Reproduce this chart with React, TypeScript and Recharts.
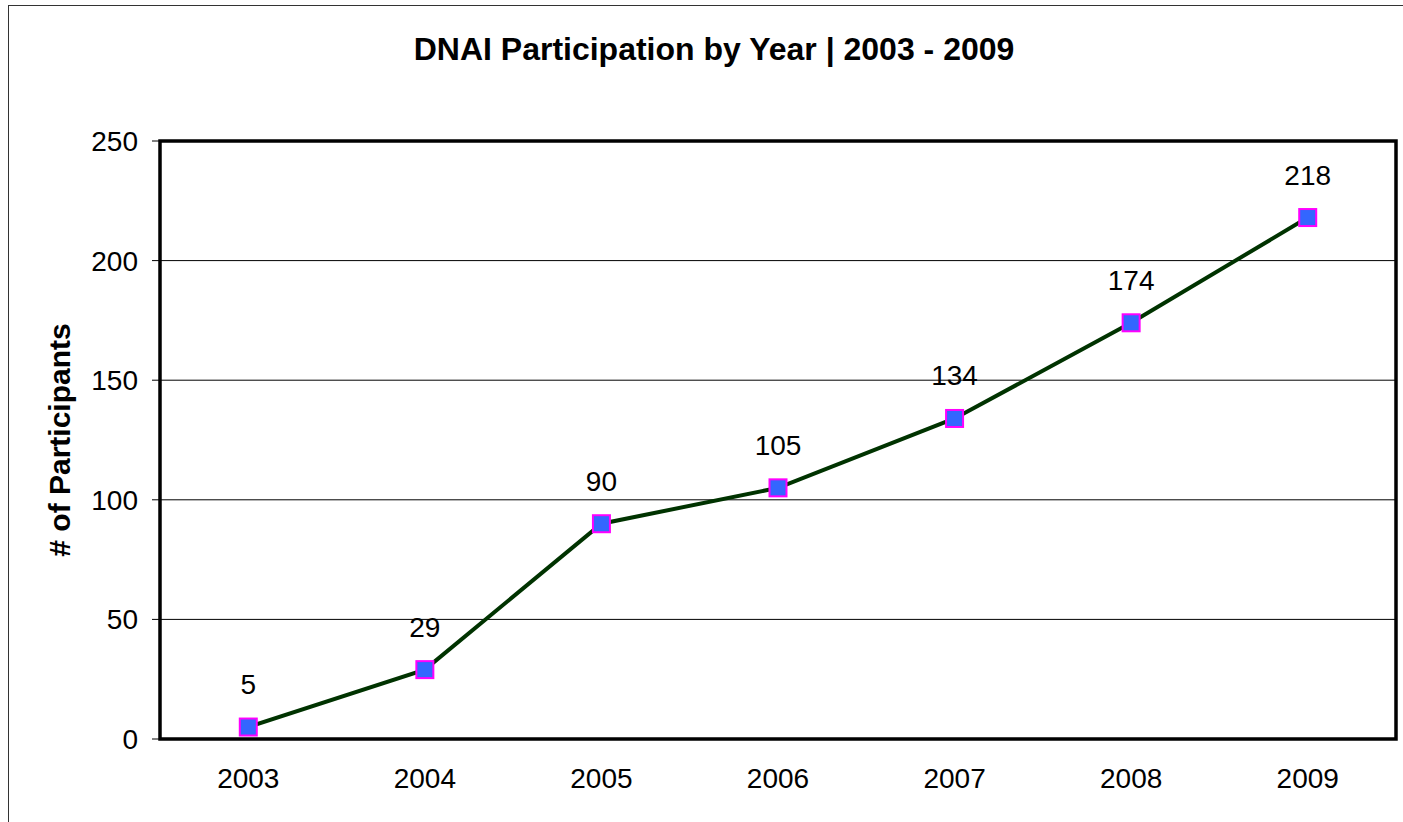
import { LineChart, Line, XAxis, YAxis, CartesianGrid, ReferenceArea, LabelList, Customized } from 'recharts';

const years = ['2003', '2004', '2005', '2006', '2007', '2008', '2009'];
const participants = [5, 29, 90, 105, 134, 174, 218];
const yTicks = [0, 50, 100, 150, 200, 250];

const FONT = '"Liberation Sans", Arial, sans-serif';

const data = years.map((year, i) => ({ x: i + 1, year, value: participants[i] }));
const labelTicks = years.map((_, i) => i + 1);
const boundaryTicks = [0.5, ...years.map((_, i) => i + 1.5)];

const SquareDot = (props: any) => {
  const { cx, cy, index } = props;
  if (cx == null || cy == null) return null;
  return (
    <rect
      key={`dot-${index}`}
      x={cx - 8.5}
      y={cy - 8.5}
      width={17}
      height={17}
      fill="#3366FF"
      stroke="#FF00FF"
      strokeWidth={2}
    />
  );
};

const Title = () => (
  <text x={705} y={54} textAnchor="middle" fontFamily={FONT} fontWeight="bold" fontSize={32} fill="#000">
    DNAI Participation by Year | 2003 - 2009
  </text>
);

const YTitle = () => (
  <text
    x={61}
    y={434}
    transform="rotate(-90, 61, 434)"
    textAnchor="middle"
    fontFamily={FONT}
    fontWeight="bold"
    fontSize={30}
    fill="#000"
  >
    # of Participants
  </text>
);

const App = () => {
  return (
    <div
      style={{
        position: 'absolute',
        top: 5,
        left: 8,
        width: 1400,
        height: 820,
        border: '1px solid #333',
        background: '#fff',
      }}
    >
      <LineChart
        width={1400}
        height={820}
        data={data}
        margin={{ top: 135, right: 13, bottom: 27, left: 51 }}
      >
        <CartesianGrid horizontal vertical={false} stroke="#000" strokeWidth={1} />
        <XAxis
          xAxisId="bounds"
          type="number"
          dataKey="x"
          domain={[0.5, 7.5]}
          ticks={boundaryTicks}
          tick={false}
          tickLine={{ stroke: '#000', strokeWidth: 1 }}
          tickSize={8}
          axisLine={false}
          height={0}
          allowDataOverflow
        />
        <XAxis
          type="number"
          dataKey="x"
          domain={[0.5, 7.5]}
          ticks={labelTicks}
          tickFormatter={(v: number) => years[v - 1]}
          tick={{ fontSize: 28, fill: '#000', fontFamily: FONT }}
          tickLine={false}
          tickSize={8}
          tickMargin={21}
          axisLine={false}
          height={60}
          allowDataOverflow
        />
        <YAxis
          type="number"
          domain={[0, 250]}
          ticks={yTicks}
          tick={{ fontSize: 28, fill: '#000', fontFamily: FONT }}
          tickLine={{ stroke: '#000', strokeWidth: 1 }}
          tickSize={8}
          tickMargin={14}
          axisLine={false}
          width={100}
        />
        <ReferenceArea x1={0.5} x2={7.5} y1={0} y2={250} fill="none" stroke="#000" strokeWidth={3.5} />
        <Line
          type="linear"
          dataKey="value"
          stroke="#003300"
          strokeWidth={4}
          dot={<SquareDot />}
          activeDot={false}
          isAnimationActive={false}
        >
          <LabelList dataKey="value" position="top" offset={33} fontSize={28} fill="#000" fontFamily={FONT} />
        </Line>
        <Customized component={Title} />
        <Customized component={YTitle} />
      </LineChart>
    </div>
  );
};

export default App;
